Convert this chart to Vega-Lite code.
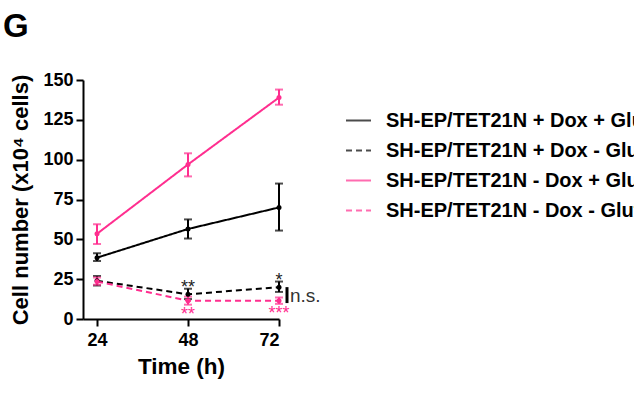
{
  "$schema": "https://vega.github.io/schema/vega-lite/v6.json",
  "width": 196,
  "height": 239,
  "autosize": {"type": "none"},
  "padding": {"left": 83, "top": 80, "right": 355, "bottom": 77},
  "background": "white",
  "title": {
    "text": "G",
    "anchor": "start",
    "frame": "group",
    "font": "Liberation Sans",
    "fontSize": 33,
    "fontWeight": "bold",
    "color": "black",
    "baseline": "alphabetic",
    "dx": -80,
    "offset": 1
  },
  "config": {
    "view": {"stroke": null},
    "font": "Liberation Sans",
    "axis": {
      "domainColor": "black",
      "domainWidth": 2,
      "tickColor": "black",
      "tickWidth": 2,
      "tickSize": 7,
      "grid": false,
      "labelOverlap": false,
      "labelFont": "Liberation Sans",
      "labelFontSize": 18,
      "labelFontWeight": "bold",
      "labelColor": "black",
      "titleFont": "Liberation Sans",
      "titleFontWeight": "bold",
      "titleColor": "black"
    },
    "legend": {
      "orient": "none",
      "legendX": 262,
      "legendY": 27,
      "symbolType": "stroke",
      "symbolSize": 625,
      "symbolStrokeWidth": 2,
      "labelFont": "Liberation Sans",
      "labelFontSize": 20,
      "labelFontWeight": "bold",
      "labelColor": "black",
      "labelOffset": 14,
      "labelLimit": 0,
      "rowPadding": 6
    }
  },
  "datasets": {
    "growth": [
      {"group": "SH-EP/TET21N + Dox + Glutamine", "time": 24, "mean": 38.5, "lo": 36.4, "hi": 41.2, "sig": ""},
      {"group": "SH-EP/TET21N + Dox + Glutamine", "time": 48, "mean": 56.5, "lo": 50.5, "hi": 62.5, "sig": ""},
      {"group": "SH-EP/TET21N + Dox + Glutamine", "time": 72, "mean": 70, "lo": 55.5, "hi": 85, "sig": ""},
      {"group": "SH-EP/TET21N + Dox - Glutamine", "time": 24, "mean": 24, "lo": 21, "hi": 27, "sig": ""},
      {"group": "SH-EP/TET21N + Dox - Glutamine", "time": 48, "mean": 15.5, "lo": 12.5, "hi": 19, "sig": "**"},
      {"group": "SH-EP/TET21N + Dox - Glutamine", "time": 72, "mean": 20, "lo": 17, "hi": 23.5, "sig": "*"},
      {"group": "SH-EP/TET21N - Dox + Glutamine", "time": 24, "mean": 53.5, "lo": 47, "hi": 59.5, "sig": ""},
      {"group": "SH-EP/TET21N - Dox + Glutamine", "time": 48, "mean": 97, "lo": 89.5, "hi": 104, "sig": ""},
      {"group": "SH-EP/TET21N - Dox + Glutamine", "time": 72, "mean": 139, "lo": 134.5, "hi": 144, "sig": ""},
      {"group": "SH-EP/TET21N - Dox - Glutamine", "time": 24, "mean": 23.5, "lo": 21.5, "hi": 26, "sig": ""},
      {"group": "SH-EP/TET21N - Dox - Glutamine", "time": 48, "mean": 11.5, "lo": 9, "hi": 14, "sig": "**"},
      {"group": "SH-EP/TET21N - Dox - Glutamine", "time": 72, "mean": 11.5, "lo": 9.5, "hi": 13.5, "sig": "***"}
    ],
    "comparison": [
      {"time": 72, "top": 20, "bottom": 10, "label": "n.s."}
    ]
  },
  "encoding": {
    "x": {"field": "time", "type": "quantitative", "scale": {"domain": [20.3, 72], "nice": false, "zero": false},
          "axis": {"values": [24, 48, 72], "title": "Time (h)", "titleFontSize": 22.5, "labelPadding": 5, "titlePadding": 6}}
  },
  "layer": [
    {
      "data": {"name": "growth"},
      "mark": {"type": "rule", "strokeWidth": 2},
      "encoding": {
        "y": {"field": "lo", "type": "quantitative", "scale": {"domain": [0, 150], "nice": false},
              "axis": {"values": [0, 25, 50, 75, 100, 125, 150], "title": "Cell number (x10⁴ cells)", "titleFontSize": 22, "labelPadding": 3, "titlePadding": 10}},
        "y2": {"field": "hi"},
        "color": {"field": "group", "type": "nominal", "title": null,
                  "scale": {"domain": ["SH-EP/TET21N + Dox + Glutamine", "SH-EP/TET21N + Dox - Glutamine", "SH-EP/TET21N - Dox + Glutamine", "SH-EP/TET21N - Dox - Glutamine"],
                            "range": ["#000000", "#000000", "#FF2E8F", "#FF2E8F"]}}
      }
    },
    {
      "data": {"name": "growth"},
      "mark": {"type": "tick", "orient": "horizontal", "size": 8, "thickness": 2},
      "encoding": {
        "y": {"field": "lo", "type": "quantitative",
              "axis": {"values": [0, 25, 50, 75, 100, 125, 150], "title": "Cell number (x10⁴ cells)", "titleFontSize": 22, "labelPadding": 3, "titlePadding": 10}},
        "color": {"field": "group", "type": "nominal", "title": null}
      }
    },
    {
      "data": {"name": "growth"},
      "mark": {"type": "tick", "orient": "horizontal", "size": 8, "thickness": 2},
      "encoding": {
        "y": {"field": "hi", "type": "quantitative",
              "axis": {"values": [0, 25, 50, 75, 100, 125, 150], "title": "Cell number (x10⁴ cells)", "titleFontSize": 22, "labelPadding": 3, "titlePadding": 10}},
        "color": {"field": "group", "type": "nominal", "title": null}
      }
    },
    {
      "data": {"name": "growth"},
      "mark": {"type": "line", "strokeWidth": 2},
      "encoding": {
        "y": {"field": "mean", "type": "quantitative",
              "axis": {"values": [0, 25, 50, 75, 100, 125, 150], "title": "Cell number (x10⁴ cells)", "titleFontSize": 22, "labelPadding": 3, "titlePadding": 10}},
        "color": {"field": "group", "type": "nominal", "title": null},
        "strokeDash": {"field": "group", "type": "nominal", "title": null,
                       "scale": {"domain": ["SH-EP/TET21N + Dox + Glutamine", "SH-EP/TET21N + Dox - Glutamine", "SH-EP/TET21N - Dox + Glutamine", "SH-EP/TET21N - Dox - Glutamine"],
                                 "range": [[1, 0], [6, 4], [1, 0], [6, 4]]}}
      }
    },
    {
      "data": {"name": "growth"},
      "mark": {"type": "point", "filled": true, "size": 25, "opacity": 1},
      "encoding": {
        "y": {"field": "mean", "type": "quantitative",
              "axis": {"values": [0, 25, 50, 75, 100, 125, 150], "title": "Cell number (x10⁴ cells)", "titleFontSize": 22, "labelPadding": 3, "titlePadding": 10}},
        "color": {"field": "group", "type": "nominal", "title": null}
      }
    },
    {
      "data": {"name": "growth"},
      "transform": [{"filter": "datum.sig != '' && indexof(datum.group, '+ Dox') >= 0"}],
      "mark": {"type": "text", "fontSize": 18, "baseline": "middle", "align": "center", "dy": -1, "color": "#222222"},
      "encoding": {
        "y": {"field": "hi", "type": "quantitative",
              "axis": {"values": [0, 25, 50, 75, 100, 125, 150], "title": "Cell number (x10⁴ cells)", "titleFontSize": 22, "labelPadding": 3, "titlePadding": 10}},
        "text": {"field": "sig"}
      }
    },
    {
      "data": {"name": "growth"},
      "transform": [{"filter": "datum.sig != '' && indexof(datum.group, '- Dox') >= 0"}],
      "mark": {"type": "text", "fontSize": 18, "baseline": "middle", "align": "center", "dy": 10, "color": "#FF2E8F"},
      "encoding": {
        "y": {"field": "lo", "type": "quantitative",
              "axis": {"values": [0, 25, 50, 75, 100, 125, 150], "title": "Cell number (x10⁴ cells)", "titleFontSize": 22, "labelPadding": 3, "titlePadding": 10}},
        "text": {"field": "sig"}
      }
    },
    {
      "data": {"name": "comparison"},
      "mark": {"type": "rule", "strokeWidth": 3, "color": "black", "xOffset": 8},
      "encoding": {
        "y": {"field": "top", "type": "quantitative",
              "axis": {"values": [0, 25, 50, 75, 100, 125, 150], "title": "Cell number (x10⁴ cells)", "titleFontSize": 22, "labelPadding": 3, "titlePadding": 10}},
        "y2": {"field": "bottom"}
      }
    },
    {
      "data": {"name": "comparison"},
      "mark": {"type": "text", "fontSize": 19, "align": "left", "baseline": "middle", "dx": 11, "dy": 9, "color": "#333333"},
      "encoding": {
        "y": {"field": "top", "type": "quantitative",
              "axis": {"values": [0, 25, 50, 75, 100, 125, 150], "title": "Cell number (x10⁴ cells)", "titleFontSize": 22, "labelPadding": 3, "titlePadding": 10}},
        "text": {"field": "label"}
      }
    }
  ]
}
